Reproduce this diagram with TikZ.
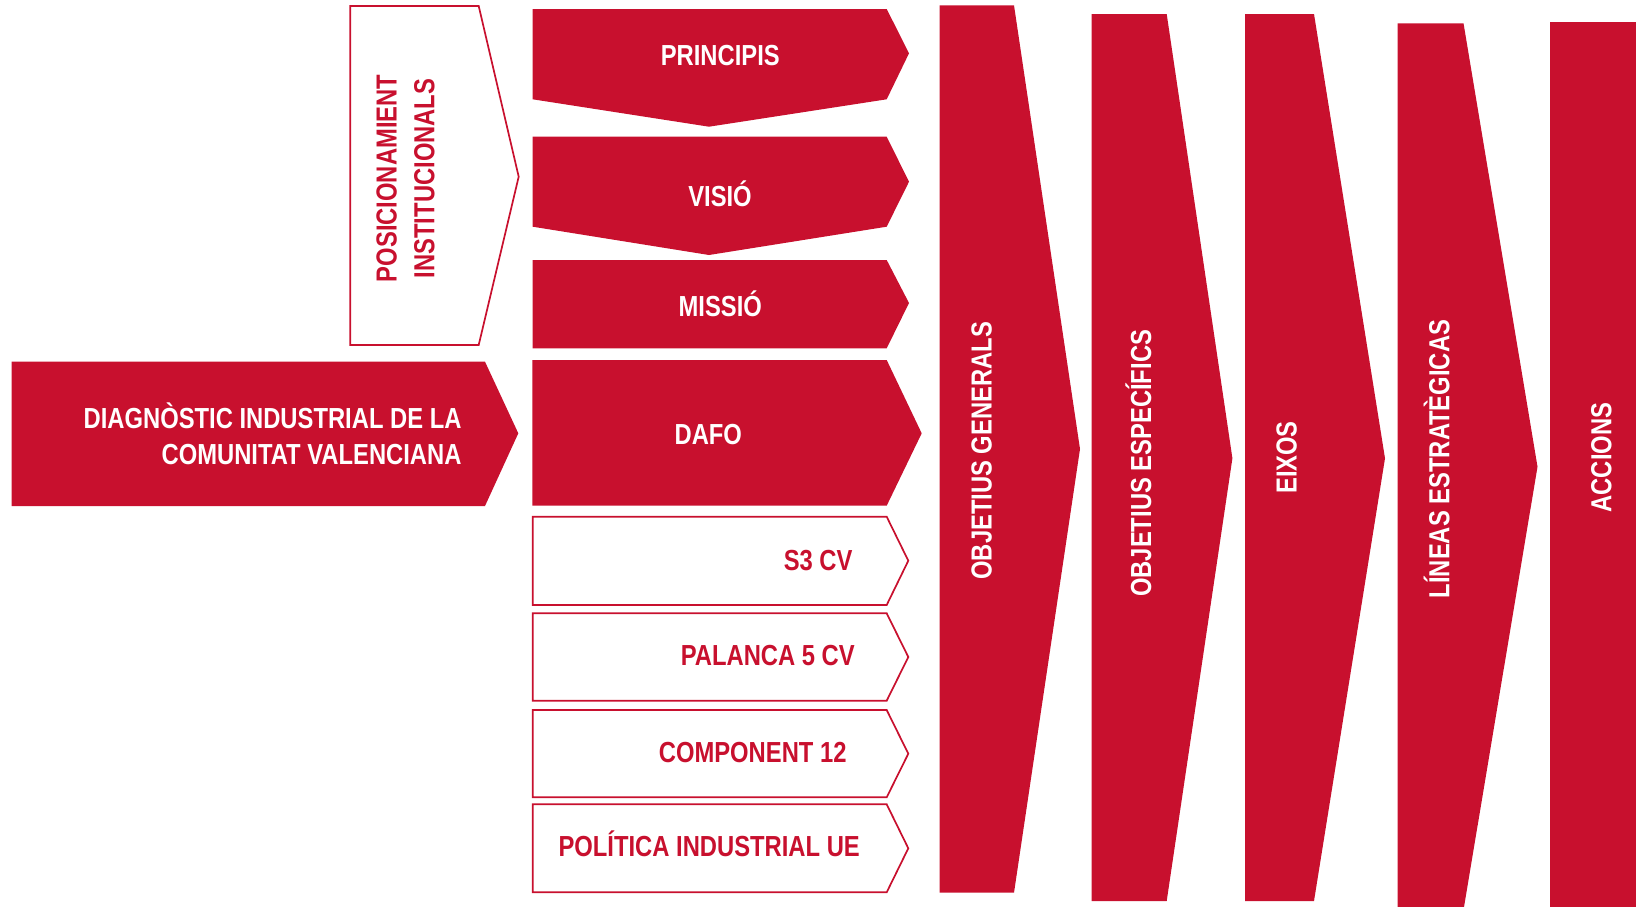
\documentclass[tikz,border=0pt]{standalone}
\usepackage{fontspec}
\setmainfont{Liberation Sans}[FakeStretch=0.82]
\definecolor{myred}{HTML}{C8102E}
\tikzset{
  redshape/.style={fill=myred, draw=none},
  outshape/.style={draw=myred, line width=1.7pt, fill=white, line join=miter},
  lbl/.style={inner sep=0pt, font=\fontsize{29}{35}\selectfont\bfseries},
  wlbl/.style={lbl, text=white},
  rlbl/.style={lbl, text=myred},
}
\begin{document}
\begin{tikzpicture}[x=1pt,y=-1pt]
\useasboundingbox (0,0) rectangle (1636,906);
\clip (0,0) rectangle (1636,906);

% outlined shapes
\path[outshape] (350.3,6) -- (478.7,6) -- (518.7,176.7) -- (478.7,345) -- (350.3,345) -- cycle;
\path[outshape] (532.7,516.7) -- (886.7,516.7) -- (908.3,560.7) -- (886.7,605) -- (532.7,605) -- cycle;
\path[outshape] (532.7,613.3) -- (886.7,613.3) -- (908.3,657) -- (886.7,700.7) -- (532.7,700.7) -- cycle;
\path[outshape] (532.7,710) -- (886.7,710) -- (908.3,753.7) -- (886.7,797.3) -- (532.7,797.3) -- cycle;
\path[outshape] (532.7,804.3) -- (886.7,804.3) -- (908.3,848.3) -- (886.7,892.3) -- (532.7,892.3) -- cycle;

% filled chevrons
\path[redshape] (532.7,9) -- (886.7,9) -- (909,53.3) -- (886.7,99.3) -- (709,126.7) -- (532.7,99.3) -- cycle;
\path[redshape] (532.7,136.7) -- (886.7,136.7) -- (909,181.7) -- (886.7,226.7) -- (709,255) -- (532.7,226.7) -- cycle;
\path[redshape] (532.7,260) -- (886.7,260) -- (909,303) -- (886.7,348.3) -- (532.7,348.3) -- cycle;
\path[redshape] (532.3,360) -- (886.7,360) -- (921.7,433.3) -- (886.7,505.7) -- (532.3,505.7) -- cycle;
\path[redshape] (11.7,361.7) -- (485,361.7) -- (518.3,433.3) -- (485,506) -- (11.7,506) -- cycle;

% columns
\path[redshape] (939.5,5.3) -- (1014,5.3) -- (1080,449) -- (1014,892.7) -- (939.5,892.7) -- cycle;
\path[redshape] (1091.5,14) -- (1166.7,14) -- (1232.4,458.3) -- (1166.7,901) -- (1091.5,901) -- cycle;
\path[redshape] (1245,14) -- (1314,14) -- (1385,458.3) -- (1314,901) -- (1245,901) -- cycle;
\path[redshape] (1397.7,23.3) -- (1463.5,23.3) -- (1537.5,466.7) -- (1463.5,910) -- (1397.7,910) -- cycle;
\path[redshape] (1550,21.5) -- (1645,21.5) -- (1645,915) -- (1550,915) -- cycle;

% labels
\node[rlbl, rotate=90, anchor=base] (pos) at (396.6,178.5)
  {\fontsize{29}{37.7}\selectfont\begin{tabular}[t]{@{}c@{}}POSICIONAMIENT\\INSTITUCIONALS\end{tabular}};
\node[wlbl, anchor=base] (princ) at (720.3,65) {PRINCIPIS};
\node[wlbl, anchor=base] (visio) at (720,206.5) {VISIÓ};
\node[wlbl, anchor=base] (missio) at (720.3,316.7) {MISSIÓ};
\node[wlbl, anchor=base] (dafo) at (708.3,444) {DAFO};
\node[wlbl, anchor=base east] (diag) at (461.7,428.3)
  {\fontsize{29}{35.7}\selectfont\begin{tabular}[t]{@{}r@{}}DIAGNÒSTIC INDUSTRIAL DE LA\\COMUNITAT VALENCIANA\end{tabular}};
\node[rlbl, anchor=base east] (s3) at (852.7,570) {S3 CV};
\node[rlbl, anchor=base east] (pal) at (855,665.7) {PALANCA 5 CV};
\node[rlbl, anchor=base east] (comp) at (846.7,762.7) {COMPONENT 12};
\node[rlbl, anchor=base east] (pol) at (860,856.7) {POLÍTICA INDUSTRIAL UE};

\node[wlbl, rotate=90, anchor=base] (og) at (991.5,450.8) {OBJETIUS GENERALS};
\node[wlbl, rotate=90, anchor=base] (oe) at (1151.2,463.3) {OBJETIUS ESPECÍFICS};
\node[wlbl, rotate=90, anchor=base] (eix) at (1296.7,457.5) {EIXOS};
\node[wlbl, rotate=90, anchor=base] (lin) at (1449.3,459) {LÍNEAS ESTRATÈGICAS};
\node[wlbl, rotate=90, anchor=base] (acc) at (1611.3,457.5) {ACCIONS};
\end{tikzpicture}
\end{document}
